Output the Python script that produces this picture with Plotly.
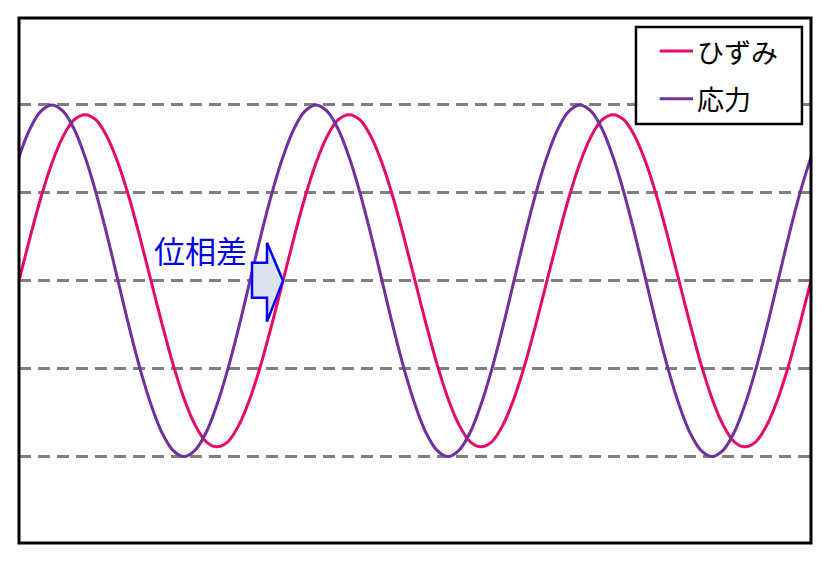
import plotly.graph_objects as go

# x positions in cycles (15° steps, 3 cycles)
x_cycles = [i / 24 for i in range(73)]

strain_cycle = [0, 0.49, 0.95, 1.34, 1.64, 1.83, 1.89, 1.83, 1.64, 1.34, 0.95, 0.49,
                0, -0.49, -0.95, -1.34, -1.64, -1.83, -1.89, -1.83, -1.64, -1.34, -0.95, -0.49]
stress_cycle = [1.41, 1.73, 1.93, 2.0, 1.93, 1.73, 1.41, 1.0, 0.52, 0, -0.52, -1.0,
                -1.41, -1.73, -1.93, -2.0, -1.93, -1.73, -1.41, -1.0, -0.52, 0, 0.52, 1.0]
strain = strain_cycle * 3 + [0]
stress = stress_cycle * 3 + [1.41]

grid_levels = [-2, -1, 0, 1, 2]
series_names = ["ひずみ", "応力"]
colors = ["#E8086A", "#7030A0"]

FONT = "Noto Sans CJK JP"

fig = go.Figure()
for name, ys, col in zip(series_names, [strain, stress], colors):
    fig.add_trace(go.Scatter(x=x_cycles, y=ys, mode="lines", name=name, showlegend=False,
                             line=dict(color=col, width=3, shape="spline")))

# phase-difference arrow (data coords)
ax = [0.8826, 0.9394, 0.9394, 1.0, 0.9394, 0.9394, 0.8826]
ay = [0.2045, 0.2045, 0.432, 0.0, -0.466, -0.193, -0.193]
path = "M " + " L ".join(f"{a},{b}" for a, b in zip(ax, ay)) + " Z"
fig.add_shape(type="path", path=path, xref="x", yref="y",
              line=dict(color="#0000FF", width=2.5), fillcolor="#DCE3F0", layer="above")

fig.add_annotation(x=0.686, y=0.36, xref="x", yref="y", text="位相差", showarrow=False,
                   font=dict(family=FONT, size=31, color="#0000EE"))

# manual legend box
fig.add_shape(type="rect", xref="paper", yref="paper", x0=0.779, x1=0.9886, y0=0.798, y1=0.983,
              line=dict(color="black", width=2.5), fillcolor="white", layer="above")
for name, col, yy in zip(series_names, colors, [0.937, 0.846]):
    fig.add_shape(type="line", xref="paper", yref="paper", x0=0.809, x1=0.851, y0=yy, y1=yy,
                  line=dict(color=col, width=3), layer="above")
    fig.add_annotation(x=0.853, y=yy, xref="paper", yref="paper", text=name, showarrow=False,
                       xanchor="left", yanchor="middle",
                       font=dict(family=FONT, size=27, color="black"))

# frame
fig.add_shape(type="rect", xref="paper", yref="paper", x0=0, x1=1, y0=0, y1=1,
              line=dict(color="black", width=3), layer="above")

fig.update_layout(
    width=838, height=562,
    margin=dict(l=11, r=35, t=10, b=27),
    paper_bgcolor="white", plot_bgcolor="white",
    font=dict(family=FONT, size=24, color="black"),
    showlegend=False,
    xaxis=dict(range=[0, 3], showgrid=False, zeroline=False, showticklabels=False,
               ticks=""),
    yaxis=dict(range=[-2.985, 2.99], tickvals=grid_levels, showgrid=True,
               gridcolor="#7F7F7F", gridwidth=2.5, griddash="12px,7px",
               zeroline=False, showticklabels=False, ticks=""),
)

fig.write_html("out.html")
